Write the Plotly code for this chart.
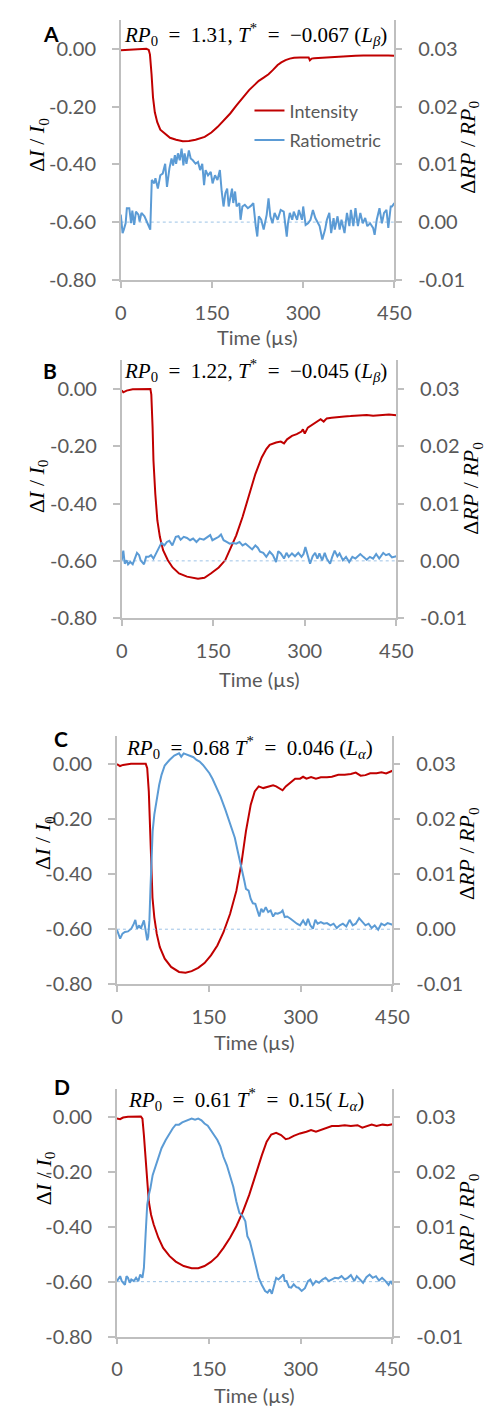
import plotly.graph_objects as go

# ---------------- data ----------------
time_ticks = [0, 150, 300, 450]
left_ticks = [-0.8, -0.6, -0.4, -0.2, 0.0]
left_ticktext = ["-0.80", "-0.60", "-0.40", "-0.20", "0.00"]
right_ticks = [-0.01, 0.0, 0.01, 0.02, 0.03]
right_ticktext = ["-0.01", "0.00", "0.01", "0.02", "0.03"]

A_intensity = [(0,-0.005),(10,-0.004),(20,-0.002),(30,0.0),(42,0.0),(46,-0.004),(48,-0.02),(50.6,-0.088),(53,-0.168),(56,-0.22),(60,-0.254),(65,-0.28),(73,-0.293),(81,-0.308),(91,-0.315),(102,-0.32),(112,-0.319),(123,-0.315),(138,-0.305),(149,-0.29),(159,-0.271),(170,-0.248),(180,-0.224),(190,-0.197),(200,-0.171),(211,-0.143),(220,-0.125),(227,-0.111),(235,-0.1),(243,-0.088),(250,-0.074),(258,-0.056),(264,-0.047),(271,-0.039),(278,-0.034),(285,-0.031),(295,-0.030),(305,-0.029),(309,-0.030),(311,-0.040),(314,-0.034),(318,-0.033),(330,-0.031),(347,-0.029),(360,-0.027),(373,-0.025),(386,-0.024),(399,-0.023),(415,-0.022),(430,-0.022),(440,-0.023),(450,-0.024)]

A_ratio = [(0,0.0013),(3,-0.0019),(5,-0.0013),(8,-0.0002),(10,0.0024),(14,0.0024),(17,-0.0002),(19,0.0020),(22,-0.0005),(25,0.0018),(29,0.0013),(31,0.0001),(34,0.0016),(39,0.0010),(44,-0.0002),(48.5,-0.0013),(51,0.0073),(55,0.0067),(57,0.0076),(61,0.0058),(65,0.0081),(69,0.0084),(73,0.0101),(76,0.0061),(80,0.0093),(83.5,0.0110),(86,0.0098),(89,0.0116),(91,0.0101),(94,0.0119),(97,0.0107),(100,0.0127),(103,0.0098),(105,0.0119),(108,0.0101),(112,0.0124),(115,0.0110),(118.5,0.0107),(123,0.0101),(127,0.0104),(130.5,0.0090),(134,0.0101),(137,0.0064),(139.5,0.0090),(143.5,0.0081),(148,0.0087),(151,0.0067),(155,0.0081),(159,0.0073),(163,0.0090),(166,0.0053),(169,0.0027),(172,0.0050),(175,0.0058),(177.5,0.0027),(183,0.0058),(185,0.0033),(188,0.0053),(190.5,0.0027),(195,0.0033),(197,0.0004),(200,0.0027),(204,0.0030),(209,0.0024),(214,0.0028),(218,0.0033),(222,-0.0007),(224.5,-0.0025),(227,0.0010),(231,0.0004),(235,-0.0013),(240,0.0013),(243,0.0041),(246,0.0010),(249.5,-0.0002),(253,0.0016),(258,0.0004),(263,0.0021),(268,0.0018),(273,-0.0025),(275,-0.0002),(278,0.0016),(282,0.0004),(284.5,0.0018),(290,0.0004),(293,0.0021),(298,0.0004),(300,0.0027),(304,-0.0005),(308,-0.0002),(312,0.0004),(316,0.0021),(320,0.0007),(324,-0.0002),(327,-0.0007),(331.5,-0.0030),(336,-0.0013),(339,0.0004),(343,0.0016),(346,-0.0019),(350,0.0007),(352,-0.0013),(356.5,0.0010),(360,-0.0013),(363,0.0004),(368,-0.0019),(372,0.0016),(376,-0.0007),(378.5,0.0021),(382.5,-0.0007),(386,0.0024),(390,-0.0007),(394,0.0016),(398,-0.0002),(402,0.0007),(405.5,-0.0007),(410,-0.0002),(415,-0.0010),(417.5,-0.0022),(421,0.0004),(425.5,0.0024),(429.5,-0.0002),(433,0.0016),(437,0.0021),(440,-0.0010),(444,0.0027),(446,0.0027),(450,0.0033)]

B_intensity = [(0,-0.005),(2.6,-0.012),(8,-0.006),(18,-0.001),(47,0.0),(48.5,-0.02),(50.6,-0.135),(52,-0.25),(55,-0.366),(58.4,-0.459),(62.6,-0.517),(67.8,-0.563),(75.6,-0.598),(83.4,-0.623),(93.9,-0.644),(107,-0.655),(125,-0.662),(135.6,-0.659),(146,-0.644),(159,-0.623),(169.5,-0.598),(177,-0.563),(187.7,-0.511),(198,-0.447),(208.6,-0.372),(219,-0.297),(229.4,-0.239),(237,-0.21),(242.5,-0.195),(253,-0.187),(260.7,-0.184),(266,-0.19),(271,-0.176),(279,-0.164),(286.8,-0.158),(294.6,-0.149),(297,-0.141),(300,-0.156),(305,-0.135),(313,-0.124),(321,-0.114),(326,-0.106),(331,-0.114),(336,-0.103),(344,-0.101),(354.6,-0.098),(365,-0.096),(375,-0.095),(386,-0.094),(401.5,-0.091),(412,-0.094),(427.6,-0.091),(438,-0.089),(450,-0.092)]

B_ratio = [(0,0.0001),(2.6,0.0018),(5,-0.0005),(8,0.0001),(10.4,-0.0006),(14,-0.0002),(18,-0.0006),(21,0.0004),(25,0.0014),(28.5,0.001),(31,0.0001),(36.5,-0.0006),(40,0.0007),(44,0.0007),(48,0.001),(52,0.0004),(57,0.0016),(61.5,0.0024),(65,0.0031),(70,0.0027),(74,0.0033),(78,0.0035),(83,0.0027),(88.6,0.0042),(93,0.0043),(96.5,0.0037),(101.7,0.0042),(107,0.004),(112,0.0036),(117,0.0039),(122.5,0.0033),(127.8,0.0039),(134.5,0.0037),(140.8,0.0042),(145,0.0045),(148.6,0.0036),(153.8,0.0039),(159,0.0042),(162.7,0.0046),(167,0.0036),(172,0.0033),(177,0.003),(182.5,0.0031),(187.7,0.003),(193,0.0033),(198,0.0027),(203,0.003),(208.6,0.0024),(213.8,0.002),(219,0.0027),(223,0.0023),(226.8,0.0016),(232,0.0014),(237,0.0007),(242.5,0.0016),(247.7,0.001),(253,-0.0002),(256.5,0.0017),(260.7,0.0013),(266,0.0004),(270,0.0014),(273.7,0.0007),(279,0.0013),(284,0.0008),(289.4,0.0014),(294.6,0.0007),(298,0.0012),(301,0.0024),(305,0.0007),(308.7,-0.0005),(313,0.0008),(317,0.0014),(320.7,0.0004),(324,0.0013),(328.5,0.0001),(332.7,0.0014),(336,0.0004),(341.5,-0.0005),(345,0.0007),(349,0.0018),(353.5,0.0008),(357,0.0013),(362.5,0.0001),(367.6,0.0007),(372.8,-0.0002),(378,0.0007),(383,0.0004),(391,0.0012),(396,0.0007),(401.5,0.0002),(406.7,0.0007),(412,0.0004),(417,0.0012),(422,0.0004),(428.6,0.0014),(433,0.001),(438,0.0012),(443,0.0006),(450,0.0008)]

C_intensity = [(0,-0.001),(5,-0.008),(10,-0.004),(23,0.0),(47,0.0),(49.4,-0.016),(52,-0.1),(54.6,-0.28),(56,-0.4),(58,-0.485),(61,-0.557),(65,-0.617),(70,-0.665),(78,-0.707),(88.4,-0.737),(101.4,-0.755),(112,-0.758),(122,-0.752),(132.7,-0.74),(143,-0.723),(153.5,-0.695),(164,-0.659),(174,-0.611),(184.7,-0.545),(195,-0.461),(203,-0.365),(210.7,-0.244),(218.5,-0.148),(225,-0.1),(231.5,-0.082),(239,-0.088),(247,-0.084),(255,-0.078),(260,-0.082),(265,-0.09),(270.5,-0.096),(275.7,-0.082),(283.5,-0.066),(291,-0.054),(299,-0.054),(304,-0.047),(309.5,-0.054),(317,-0.048),(325,-0.054),(333,-0.049),(343,-0.049),(351,-0.047),(361.6,-0.04),(372,-0.04),(382,-0.037),(390,-0.032),(398,-0.043),(405.8,-0.041),(413.6,-0.034),(424,-0.034),(432,-0.031),(439.6,-0.035),(450,-0.025)]

C_ratio = [(0,-0.0001),(2.6,-0.0011),(5.2,-0.0017),(9,-0.0008),(13,-0.0005),(18,-0.0004),(23.4,0.0001),(27.6,0.001),(30,0.0017),(32.8,0.0001),(36.4,0.0007),(39,0.0001),(41.6,0.001),(44,0.0016),(46.8,-0.0002),(49.4,-0.002),(51,-0.0014),(53,0.0016),(54.6,0.007),(56.2,0.013),(58.3,0.0178),(61,0.0208),(65,0.0238),(69,0.0262),(72.8,0.028),(78,0.0297),(85.8,0.0307),(93.6,0.0315),(101.4,0.0319),(105,0.0313),(109,0.0319),(117,0.0315),(125,0.0312),(130,0.0307),(135,0.0304),(140.5,0.0298),(145.7,0.0291),(151,0.0283),(156,0.0273),(161,0.0261),(169,0.0241),(177,0.0217),(184.7,0.0193),(192.5,0.0166),(197.7,0.0139),(203,0.0115),(208,0.0088),(210.7,0.0073),(215,0.007),(218.5,0.0055),(222,0.0047),(226,0.0046),(229,0.0037),(232.5,0.0023),(235.7,0.0037),(239,0.0031),(243,0.004),(247,0.0031),(251,0.0034),(255,0.0023),(258.6,0.0029),(262.7,0.0028),(268,0.0031),(270.5,0.0034),(274,0.0022),(278,0.0023),(283.5,0.0019),(288.7,0.0014),(294,0.001),(299,0.0007),(304,0.0016),(308.5,0.0007),(312,0.0019),(315.8,0.0007),(320,0.0001),(324,0.0017),(327.7,0.001),(333,0.0013),(338,0.001),(343,0.0011),(348.6,0.0007),(353.8,0.001),(359,0.0002),(364,0.0007),(369,0.001),(374.6,0.0005),(380,0.0017),(385,0.0007),(390,0.001),(395.5,0.002),(400.7,0.0013),(405.8,0.0007),(411,0.001),(416,0.0002),(421,0.0007),(426.6,-0.0001),(431.8,0.001),(437,0.0007),(442,0.0011),(450,0.0008)]

D_intensity = [(0,-0.006),(5,-0.008),(10,-0.002),(18,0.001),(39,0.002),(41.6,-0.006),(44,-0.066),(47,-0.163),(49.4,-0.247),(52,-0.308),(55.7,-0.356),(60,-0.392),(67.6,-0.44),(75.4,-0.477),(86,-0.507),(96,-0.527),(109,-0.543),(122,-0.551),(132.7,-0.551),(143,-0.543),(153.5,-0.528),(164,-0.507),(174,-0.477),(184.7,-0.44),(195,-0.398),(205.5,-0.346),(216,-0.284),(226,-0.211),(236.7,-0.139),(244.5,-0.09),(252,-0.064),(260,-0.058),(268,-0.066),(275.7,-0.081),(281,-0.078),(288.7,-0.069),(299,-0.06),(309.5,-0.054),(317,-0.048),(325,-0.054),(333,-0.048),(343,-0.04),(351,-0.033),(361.6,-0.033),(372,-0.03),(382,-0.033),(393,-0.03),(400.7,-0.039),(408,-0.033),(416,-0.028),(424,-0.033),(434,-0.028),(442,-0.03),(450,-0.027)]

D_ratio = [(0,0.0001),(2.6,0.0007),(5.2,0.001),(7.8,0.0001),(10.4,-0.0002),(13,-0.0006),(15.6,0.001),(18,0.0007),(20.8,-0.0002),(23.4,0.0004),(27.6,0.0001),(31.2,0.0007),(34.8,0.0001),(38,0.0013),(41.6,0.0007),(44,0.0025),(46.8,0.0086),(49.4,0.014),(52,0.0158),(54.6,0.017),(58.3,0.0194),(62.4,0.0209),(67.6,0.0224),(72.8,0.0243),(79.6,0.0258),(85.8,0.027),(91,0.0279),(96,0.0286),(101.4,0.0286),(106.6,0.029),(114.5,0.0293),(122,0.0297),(127.5,0.0295),(132.7,0.0297),(138,0.0294),(143,0.0288),(148.3,0.0284),(153.5,0.0276),(158.7,0.0267),(164,0.0258),(169,0.0246),(174,0.0227),(179.5,0.0212),(184.7,0.0194),(190,0.0173),(195,0.0146),(200,0.0125),(205.5,0.0119),(209.7,0.011),(213,0.0083),(217,0.0074),(221,0.0056),(226,0.0031),(231.5,0.0007),(236.7,-0.0006),(242,-0.0017),(246,-0.002),(249.7,-0.0014),(253,-0.0022),(256.5,-0.0005),(260,0.0007),(263.8,0.0004),(268,0.0008),(272,0.0013),(274,0.0001),(277,0.0001),(281,-0.001),(284.6,-0.0011),(288.7,-0.0005),(293,-0.001),(296.5,-0.0011),(301.7,-0.0017),(307,-0.0012),(312,0.0001),(315.8,0.0004),(320,-0.0006),(325,0.0001),(330,-0.0002),(335.6,0.0004),(340.7,0.0007),(346,0.0001),(351,0.0004),(356,0.0007),(361.6,0.0006),(366.8,0.001),(372,0.0004),(377,0.0007),(382,0.0012),(387.6,0.0001),(391.7,0.001),(397,0.0004),(402,-0.0002),(407.4,0.0008),(412.6,0.0013),(417.7,0.0007),(423,0.001),(428,0.0002),(433,0.0007),(438.6,0.0001),(443.7,-0.0006),(447,0.0001),(450,-0.0005)]

baseline_t = [0, 450]
baseline_v = [0.0, 0.0]

labels = ["A", "B", "C", "D"]
EQ = "&nbsp;&nbsp;=&nbsp;&nbsp;"
formulas = [
    f"<i>RP</i><sub>0</sub>{EQ}1.31,&nbsp;<i>T</i><sup>*</sup>{EQ}−0.067 (<i>L<sub>β</sub></i>)",
    f"<i>RP</i><sub>0</sub>{EQ}1.22,&nbsp;<i>T</i><sup>*</sup>{EQ}−0.045 (<i>L<sub>β</sub></i>)",
    f"<i>RP</i><sub>0</sub>{EQ}0.68 <i>T</i><sup>*</sup>{EQ}0.046 (<i>L<sub>α</sub></i>)",
    f"<i>RP</i><sub>0</sub>{EQ}0.61 <i>T</i><sup>*</sup>{EQ}0.15( <i>L<sub>α</sub></i>)",
]
intensity_series = [A_intensity, B_intensity, C_intensity, D_intensity]
ratio_series = [A_ratio, B_ratio, C_ratio, D_ratio]

# ---------------- layout geometry (pixels) ----------------
W, H = 493, 1410
# plot boxes: left, right, top, bottom
boxes = [(112, 399, 12, 274), (113, 401, 355, 615), (108, 397, 734, 984), (108, 397, 1090, 1339)]
letter_pos = [(39, 26), (38, 365), (49, 736), (50, 1087)]
formula_pos = [(113, 27), (113, 365), (115, 745), (117, 1100)]
ltitle_pos = [(25, 138), (25, 482), (32, 842), (32, 1180)]
rtitle_pos = [(477, 140), (481, 484), (477, 852), (477, 1221)]
xtitle_y = [332, 676, 1042, 1398]

RED = "#C00000"
BLUE = "#5B9BD5"
AXIS = "#BFBFBF"
TXT = "#595959"
SANS = "Lato, 'Open Sans', sans-serif"
SERIF = "'Liberation Serif', 'DejaVu Serif', serif"

def px(x):
    return x / W

def py(y):
    return 1 - y / H

fig = go.Figure()
layout = dict(
    width=W, height=H, autosize=False,
    margin=dict(l=0, r=0, t=0, b=0),
    paper_bgcolor="white", plot_bgcolor="white",
    showlegend=True,
)
annotations = []

for i in range(4):
    n = i + 1
    xa = "x" if n == 1 else f"x{n}"
    yl_idx = 2 * i + 1
    yr_idx = 2 * i + 2
    yl = "y" if yl_idx == 1 else f"y{yl_idx}"
    yr = f"y{yr_idx}"
    L, R, T, B = boxes[i]

    inten = intensity_series[i]
    ratio = ratio_series[i]
    fig.add_trace(go.Scatter(
        x=[p[0] for p in inten], y=[p[1] for p in inten], xaxis=xa, yaxis=yl,
        mode="lines", line=dict(color=RED, width=2), name="Intensity",
        showlegend=(i == 0), legendgroup="int",
    ))
    fig.add_trace(go.Scatter(
        x=baseline_t, y=baseline_v, xaxis=xa, yaxis=yr, mode="lines",
        line=dict(color="#9DC3E6", width=1, dash="dot"), showlegend=False, hoverinfo="skip",
    ))
    fig.add_trace(go.Scatter(
        x=[p[0] for p in ratio], y=[p[1] for p in ratio], xaxis=xa, yaxis=yr,
        mode="lines", line=dict(color=BLUE, width=2), name="Ratiometric",
        showlegend=(i == 0), legendgroup="rat",
    ))

    xkey = "xaxis" if n == 1 else f"xaxis{n}"
    ylkey = "yaxis" if yl_idx == 1 else f"yaxis{yl_idx}"
    yrkey = f"yaxis{yr_idx}"
    layout[xkey] = dict(
        domain=[px(L), px(R)], anchor=yl, range=[0, 450],
        tickmode="array", tickvals=time_ticks, ticktext=[str(t) for t in time_ticks],
        showline=True, linecolor=AXIS, linewidth=1.5, ticks="outside", ticklen=6,
        tickcolor=AXIS, tickwidth=1.5, showgrid=False, zeroline=False,
        tickfont=dict(family=SANS, size=20, color=TXT), ticklabelstandoff=8,
        fixedrange=True,
    )
    layout[ylkey] = dict(
        domain=[py(B), py(T)], anchor=xa, range=[-0.8, 0.1],
        tickmode="array", tickvals=left_ticks, ticktext=left_ticktext,
        showline=True, linecolor=AXIS, linewidth=1.5, ticks="outside", ticklen=7,
        tickcolor=AXIS, tickwidth=1.5, showgrid=False, zeroline=False,
        tickfont=dict(family=SANS, size=20, color=TXT), ticklabelstandoff=12,
    )
    layout[yrkey] = dict(
        overlaying=yl, side="right", anchor=xa, range=[-0.01, 0.035],
        tickmode="array", tickvals=right_ticks, ticktext=right_ticktext,
        showline=True, linecolor=AXIS, linewidth=1.5, ticks="outside", ticklen=6,
        tickcolor=AXIS, tickwidth=1.5, showgrid=False, zeroline=False,
        tickfont=dict(family=SANS, size=20, color=TXT), ticklabelstandoff=12,
    )

    lx, ly = letter_pos[i]
    annotations.append(dict(text=f"<b>{labels[i]}</b>", x=px(lx), y=py(ly), xref="paper", yref="paper",
                            xanchor="center", yanchor="middle", showarrow=False,
                            font=dict(family=SANS, size=21, color="black")))
    fx, fy = formula_pos[i]
    annotations.append(dict(text=formulas[i], x=px(fx), y=py(fy), xref="paper", yref="paper",
                            xanchor="left", yanchor="middle", showarrow=False,
                            font=dict(family=SERIF, size=21, color="black")))
    tx, ty = ltitle_pos[i]
    annotations.append(dict(text="Δ<i>I</i> / <i>I</i><sub>0</sub>", x=px(tx), y=py(ty), xref="paper", yref="paper",
                            xanchor="center", yanchor="middle", textangle=-90, showarrow=False,
                            font=dict(family=SERIF, size=22, color="black")))
    rx, ry = rtitle_pos[i]
    annotations.append(dict(text="Δ<i>RP</i> / <i>RP</i><sub>0</sub>", x=px(rx), y=py(ry), xref="paper", yref="paper",
                            xanchor="center", yanchor="middle", textangle=-90, showarrow=False,
                            font=dict(family=SERIF, size=22, color="black")))
    annotations.append(dict(text="Time (µs)", x=px((L + R) / 2), y=py(xtitle_y[i]), xref="paper", yref="paper",
                            xanchor="center", yanchor="middle", showarrow=False,
                            font=dict(family=SANS, size=20, color=TXT)))

layout["annotations"] = annotations
layout["legend"] = dict(
    x=px(247), y=py(85), xanchor="left", yanchor="top",
    bgcolor="rgba(0,0,0,0)", borderwidth=0,
    font=dict(family=SANS, size=18, color=TXT),
    traceorder="grouped", tracegroupgap=3, itemwidth=30,
)
fig.update_layout(**layout)
fig.write_html("out.html")
